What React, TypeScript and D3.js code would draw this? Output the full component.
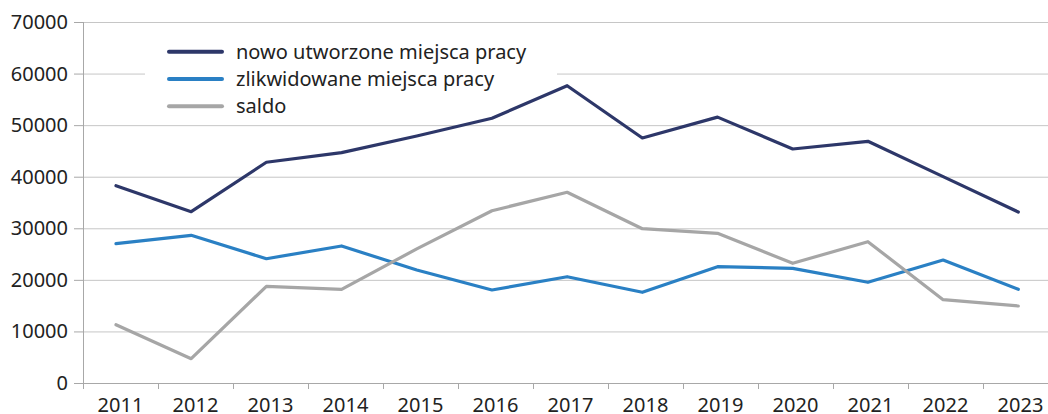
import React from 'react';
import * as d3 from 'd3';

const years = ['2011', '2012', '2013', '2014', '2015', '2016', '2017', '2018', '2019', '2020', '2021', '2022', '2023'];
const created = [38260, 33220, 42800, 44660, 47900, 51330, 57650, 47510, 51550, 45380, 46870, 40010, 33160];
const liquidated = [27010, 28640, 24100, 26570, 21900, 18030, 20610, 17590, 22550, 22240, 19530, 23850, 18170];
const balance = [11300, 4710, 18750, 18170, 26000, 33410, 36980, 29920, 29030, 23210, 27400, 16160, 14930];
const yTicks = [0, 10000, 20000, 30000, 40000, 50000, 60000, 70000];

const series = [
  { name: 'nowo utworzone miejsca pracy', values: created, color: '#2d3769' },
  { name: 'zlikwidowane miejsca pracy', values: liquidated, color: '#2a80c4' },
  { name: 'saldo', values: balance, color: '#a6a6a6' },
];

const W = 1048;
const H = 414;
const font = '"Noto Sans", sans-serif';

export default function App() {
  const left = 83;
  const top = 22;
  const bottom = 383;

  // axis bands (ticks/labels) and the point positions of the lines
  const xBand = d3.scaleBand().domain(years).range([left, left + 75 * years.length]);
  const xPoint = d3.scalePoint().domain(years).range([116, 1018.3]);
  const y = d3.scaleLinear().domain([0, 70000]).range([bottom, top]);

  const line = d3
    .line<number>()
    .x((d, i) => xPoint(years[i]) as number)
    .y((d) => y(d));

  return (
    <div style={{ position: 'absolute', left: 0, top: 0 }}>
      <svg width={W} height={H} style={{ display: 'block', fontFamily: font }}>
        <rect width={W} height={H} fill="#ffffff" />
        {yTicks.filter((t) => t > 0).map((t) => (
          <line key={t} x1={left} x2={W} y1={y(t) + 0.5} y2={y(t) + 0.5} stroke="#c6c6c6" strokeWidth={1} />
        ))}
        {yTicks.map((t) => (
          <g key={'yt' + t}>
            <line x1={left - 9} x2={left} y1={y(t) + 0.5} y2={y(t) + 0.5} stroke="#a8a8a8" />
            <text x={68} y={y(t)} dy="0.35em" textAnchor="end" fontSize={20} fill="#222">
              {t}
            </text>
          </g>
        ))}
        <line x1={left + 0.5} x2={left + 0.5} y1={top} y2={bottom} stroke="#a8a8a8" />
        <line x1={left} x2={W} y1={bottom + 0.5} y2={bottom + 0.5} stroke="#a8a8a8" />
        {years.map((yr) => (
          <g key={yr}>
            <line
              x1={(xBand(yr) as number) + 0.5}
              x2={(xBand(yr) as number) + 0.5}
              y1={bottom}
              y2={bottom + 6}
              stroke="#a8a8a8"
            />
            <text
              x={(xBand(yr) as number) + xBand.bandwidth() / 2}
              y={412}
              textAnchor="middle"
              fontSize={20}
              fill="#222"
            >
              {yr}
            </text>
          </g>
        ))}
        <rect x={145} y={30} width={412} height={90} fill="#ffffff" />
        {series.map((s) => (
          <path
            key={s.name}
            d={line(s.values) as string}
            fill="none"
            stroke={s.color}
            strokeWidth={3.2}
            strokeLinejoin="round"
            strokeLinecap="round"
          />
        ))}
        {series.map((s, i) => (
          <g key={'lg' + s.name} transform={`translate(169,${51.7 + i * 27.3})`}>
            <line x1={0} x2={53} y1={0} y2={0} stroke={s.color} strokeWidth={4} strokeLinecap="round" />
            <text x={67} y={0} dy="0.35em" fontSize={20} fill="#222">
              {s.name}
            </text>
          </g>
        ))}
      </svg>
    </div>
  );
}
